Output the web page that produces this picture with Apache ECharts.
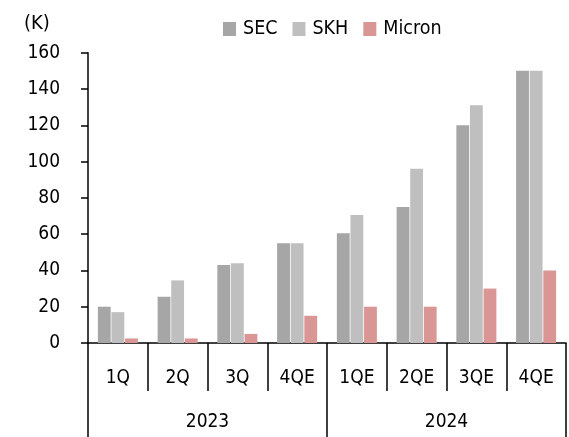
<!DOCTYPE html>
<html>
<head>
<meta charset="utf-8">
<script src="https://cdn.jsdelivr.net/npm/echarts@6/dist/echarts.min.js"></script>
<style>
html,body{margin:0;padding:0;background:#fff;}
#c{width:569px;height:437px;}
</style>
</head>
<body>
<div id="c"></div>
<script>
const quarters = ['1Q', '2Q', '3Q', '4QE', '1QE', '2QE', '3QE', '4QE'];
const years = ['2023', '2024'];
const secValues = [20, 25.5, 43, 55, 60.5, 75, 120, 150];
const skhValues = [17, 34.5, 44, 55, 70.5, 96, 131, 150];
const micronValues = [2.5, 2.5, 5, 15, 20, 20, 30, 40];
const seriesNames = ['SEC', 'SKH', 'Micron'];
const unitLabel = '(K)';

const FONT = '"DejaVu Sans Condensed", "Liberation Sans", sans-serif';
const colors = ['#a6a6a6', '#bfbfbf', '#d99694'];

const chart = echarts.init(document.getElementById('c'), null, {renderer: 'canvas'});
chart.setOption({
  animation: false,
  color: colors,
  title: {
    text: unitLabel,
    left: 19, top: 9,
    textStyle: {fontFamily: FONT, fontWeight: 'normal', fontSize: 20, color: '#000'}
  },
  legend: {
    left: 218, top: 14,
    itemWidth: 13, itemHeight: 14, itemGap: 15,
    icon: 'rect',
    textStyle: {fontFamily: FONT, fontSize: 19.5, color: '#000', padding: [0, 0, 0, 2]},
    data: seriesNames
  },
  grid: {left: 88, right: 3, top: 52.7, bottom: 94, containLabel: false},
  xAxis: [
    {
      type: 'category', data: quarters, position: 'bottom',
      axisLine: {show: true, lineStyle: {color: '#000', width: 1.5}},
      axisTick: {show: true, interval: 0, length: 48, lineStyle: {color: '#000', width: 1.5}},
      axisLabel: {interval: 0, margin: 26, fontFamily: FONT, fontSize: 19, color: '#000'},
      splitLine: {show: false}
    },
    {
      type: 'category', data: years, position: 'bottom', offset: 0,
      axisLine: {show: false},
      axisTick: {show: true, interval: 0, length: 100, lineStyle: {color: '#000', width: 1.5}},
      axisLabel: {interval: 0, margin: 70, fontFamily: FONT, fontSize: 19, color: '#000'},
      splitLine: {show: false}
    }
  ],
  yAxis: {
    type: 'value', min: 0, max: 160, interval: 20,
    axisLine: {show: true, lineStyle: {color: '#000', width: 1.5}},
    axisTick: {show: true, length: 7, lineStyle: {color: '#000', width: 1.5}},
    axisLabel: {margin: 28, fontFamily: FONT, fontSize: 19, color: '#000'},
    splitLine: {show: false}
  },
  series: [
    {name: seriesNames[0], type: 'bar', xAxisIndex: 0, data: secValues, barCategoryGap: '33%', barGap: '6%'},
    {name: seriesNames[1], type: 'bar', xAxisIndex: 0, data: skhValues, barCategoryGap: '33%', barGap: '6%'},
    {name: seriesNames[2], type: 'bar', xAxisIndex: 0, data: micronValues, barCategoryGap: '33%', barGap: '6%'}
  ]
});
</script>
</body>
</html>
